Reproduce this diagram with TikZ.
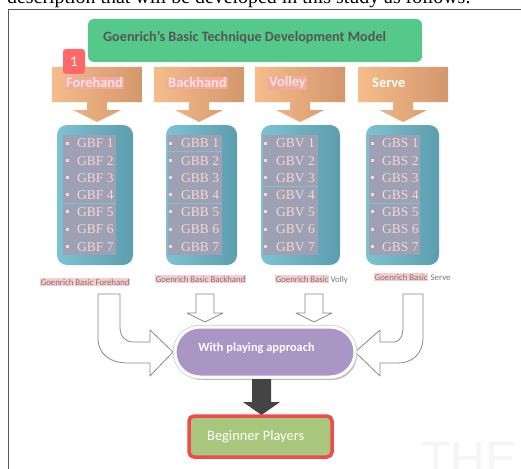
\documentclass[tikz,border=0pt]{standalone}
\usepackage{fontspec}
\setmainfont{Liberation Serif}
\newfontfamily\calfont{Carlito}
\newfontfamily\arialfont{Liberation Sans}
\definecolor{titlegreen}{HTML}{55C98A}
\definecolor{titletext}{HTML}{555555}
\definecolor{orangeL}{HTML}{F6BC8A}
\definecolor{orangeD}{HTML}{D3976C}
\definecolor{pinkhl}{HTML}{F2A9A0}
\definecolor{labtext}{HTML}{FBE3DC}
\definecolor{blueL}{HTML}{7CC3D2}
\definecolor{blueD}{HTML}{5C9DAE}
\definecolor{listbg}{HTML}{9DA1B3}
\definecolor{listtext}{HTML}{F6D6D6}
\definecolor{captext}{HTML}{777777}
\definecolor{caphl}{HTML}{F9CDCB}
\definecolor{openline}{HTML}{8A8A8A}
\definecolor{purplefill}{HTML}{A996C5}
\definecolor{darkarrow}{HTML}{444444}
\definecolor{begfill}{HTML}{A9C77C}
\definecolor{begred}{HTML}{F04A4A}
\definecolor{badgered}{HTML}{FF6868}
\tikzset{
  frameline/.style={draw=black!65, line width=1.5pt},
  titlebox/.style={fill=titlegreen, rounded corners=6pt, minimum width=334pt, minimum height=43pt, inner sep=0pt},
  titlefont/.style={font=\calfont\bfseries\fontsize{14.2}{15}\selectfont, text=titletext, inner sep=0pt},
  callout/.style={left color=orangeL, right color=orangeD},
  lablefont/.style={font=\calfont\bfseries\fontsize{14.4}{15}\selectfont, text=labtext, inner sep=1pt},
  badge/.style={fill=badgered, rounded corners=3pt, minimum width=22pt, minimum height=25pt, inner sep=0pt, text=white, font=\calfont\fontsize{15}{15}\selectfont},
  bluebox/.style={left color=blueL, right color=blueD, rounded corners=10pt},
  listitem/.style={font=\fontsize{13.5}{14}\selectfont, text=listtext, inner sep=0pt, anchor=west},
  bulletsq/.style={fill=listtext, minimum size=3pt, inner sep=0pt},
  sepline/.style={draw=blueL, line width=0.6pt},
  capfont/.style={font=\calfont\fontsize{8.8}{9}\selectfont, text=captext, inner sep=0.6pt},
  openarrow/.style={fill=white, draw=openline, line width=0.8pt, line join=round},
  pill/.style={fill=purplefill, draw=white, line width=3pt, rounded corners=25pt, minimum width=180pt, minimum height=50pt, inner sep=0pt},
  pillfont/.style={font=\calfont\bfseries\fontsize{12.4}{13}\selectfont, text=white, inner sep=0pt},
  begbox/.style={fill=begfill, draw=begred, line width=3.5pt, rounded corners=5pt, minimum width=143pt, minimum height=41pt, inner sep=0pt},
  begfont/.style={font=\calfont\fontsize{14.4}{15}\selectfont, text=white, inner sep=0pt},
}
\begin{document}
\begin{tikzpicture}[x=1pt,y=-1pt]
\useasboundingbox (0,0) rectangle (521,468);
\clip (0,0) rectangle (521,468);
\fill[white] (0,0) rectangle (521,468);

% faint watermark
\node[anchor=base west, inner sep=0pt, text=black!4, font=\arialfont\fontsize{48}{48}\selectfont] (wm) at (421,475) {THE};

% cut-off line of text above the figure
\node[anchor=base west, inner sep=0pt, font=\fontsize{19.9}{20}\selectfont] (intro) at (7,4) {description that will be developed in this study as follows:};

% frame
\draw[frameline] (8.5,470) -- (8.5,9.5) -- (525,9.5);

% title
\node[titlebox] (title) at (255,40.5) {};
\node[titlefont, anchor=west] (titletxt) at (103,37) {Goenrich’s Basic Technique Development Model};

% orange callouts
\foreach \x/\lab/\nm in {52/Forehand/fh, 154/Backhand/bh, 255/Volley/vo}{
  \path[callout] (\x,67) -- (\x+90,67) -- (\x+90,102) -- (\x+55,102) -- (\x+55,110) -- (\x+69,110) -- (\x+45,122) -- (\x+21,110) -- (\x+35,110) -- (\x+35,102) -- (\x,102) -- cycle;
  \node[lablefont, fill=pinkhl, anchor=west] (lab\nm) at (\x+13,83) {\lab};
}
\path[callout] (358,67) -- (448,67) -- (448,102) -- (413,102) -- (413,110) -- (427,110) -- (403,122) -- (379,110) -- (393,110) -- (393,102) -- (358,102) -- cycle;
\node[lablefont, text=white, anchor=west] (labsv) at (371,83) {Serve};

% badge
\node[badge] (badge) at (74,61.5) {1};

% blue boxes with lists
\foreach \bl/\br/\il/\ir/\bx/\tx/\pre/\nm in {57/133/63/116/67/77/GBF/fh, 166/237/168/222/170/181/GBB/bh, 261/340/263/318/265/276/GBV/vo, 366/439/369/420/372/382/GBS/sv}{
  \path[bluebox] (\bl,125) rectangle (\br,265);
  \fill[listbg] (\il,135) rectangle (\ir,255);
  \foreach \i in {1,...,7}{
    \node[bulletsq] (b\nm\i) at (\bx,{143+(\i-1)*17.2}) {};
    \node[listitem] (t\nm\i) at (\tx,{143.5+(\i-1)*17.2}) {\pre\ \i};
  }
}
% separators
\draw[sepline] (63,203.2) -- (116,203.2);
\draw[sepline] (168,151.6) -- (222,151.6);
\draw[sepline] (168,203.2) -- (222,203.2);
\draw[sepline] (263,186) -- (318,186);
\draw[sepline] (369,203.2) -- (420,203.2);

% captions
\node[capfont, fill=caphl, anchor=west] (capfh) at (40,282) {Goenrich Basic Forehand};
\node[capfont, fill=caphl, anchor=west] (capbh) at (155,279) {Goenrich Basic Backhand};
\node[capfont, fill=caphl, anchor=west] (capvoa) at (275,279) {Goenrich Basic};
\node[capfont, anchor=base west] (capvob) at ([xshift=0.3pt]capvoa.base east) {Volly};
\node[capfont, fill=caphl, anchor=west] (capsva) at (374,277) {Goenrich Basic};
\node[capfont, anchor=base west] (capsvb) at ([xshift=1.5pt]capsva.base east) {Serve};

% open arrows
\path[openarrow] (98,294) -- (98,338) .. controls (98,354) and (110,363) .. (128,363) -- (150,363) -- (150,376) -- (173,352) -- (150,330) -- (150,342) -- (133,342) .. controls (125,342) and (120,336) .. (120,327) -- (120,294) -- cycle;
\path[openarrow] (423,294) -- (423,338) .. controls (423,354) and (412,363) .. (398,363) -- (380,363) -- (380,376) -- (355,352) -- (380,330) -- (380,342) -- (394,342) .. controls (400,342) and (403,336) .. (403,327) -- (403,294) -- cycle;
\path[openarrow] (196,294) -- (214,294) -- (214,313) -- (223,313) -- (205,322) -- (187,313) -- (196,313) -- cycle;
\path[openarrow] (305,294) -- (323,294) -- (323,313) -- (332,313) -- (314,322) -- (296,313) -- (305,313) -- cycle;

% purple pill
\fill[black!25, rounded corners=25pt] (177,330) rectangle (357,380);
\node[pill, draw=black!20, line width=4.5pt] (pillbg) at (265,352) {};
\node[pill] (play) at (265,352) {};
\node[pillfont] (playtxt) at (256.5,348) {With playing approach};

% dark arrow
\fill[darkarrow] (252,379) -- (271,379) -- (271,402) -- (280,402) -- (261.5,415) -- (243,402) -- (252,402) -- cycle;

% beginner players
\node[begbox] (beg) at (260.5,436.5) {};
\node[begfont, anchor=west] (begtxt) at (207,437) {Beginner Players};
\end{tikzpicture}
\end{document}
